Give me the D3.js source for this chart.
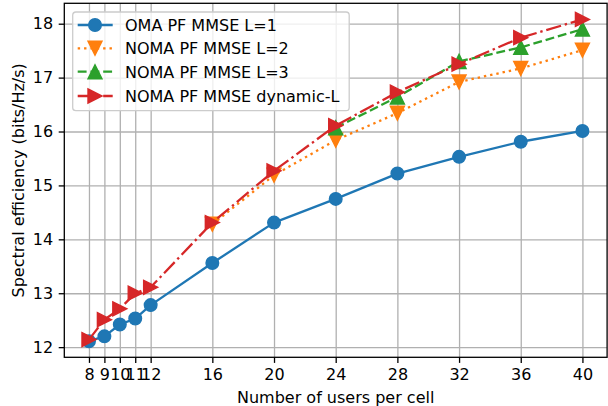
<!DOCTYPE html>
<html>
<head>
<meta charset="utf-8">
<script src="https://cdn.jsdelivr.net/npm/d3@7"></script>
<style>
  body { margin: 0; background: #fff; }
  svg { display: block; font-family: "DejaVu Sans", sans-serif; }
  text { fill: #000; }
</style>
</head>
<body>
<svg width="608" height="406"></svg>
<script>
// users per cell (x ticks)
var users = [8, 9, 10, 11, 12, 16, 20, 24, 28, 32, 36, 40];
var yTicks = [12, 13, 14, 15, 16, 17, 18];

// spectral efficiency (null = no point)
var omaL1    = [12.11, 12.20, 12.42, 12.53, 12.78, 13.56, 14.31, 14.75, 15.22, 15.53, 15.81, 16.01];
var nomaL2   = [null, null, null, null, null, 14.28, 15.19, 15.84, 16.34, 16.92, 17.17, 17.51];
var nomaL3   = [null, null, null, null, null, null, null, 16.07, 16.64, 17.30, 17.56, 17.90];
var nomaDynL = [12.14, 12.51, 12.71, 13.00, 13.11, 14.31, 15.27, 16.11, 16.73, 17.25, 17.74, 18.08];

var seriesNames = ["OMA PF MMSE L=1", "NOMA PF MMSE L=2", "NOMA PF MMSE L=3", "NOMA PF MMSE dynamic-L"];

var series = [
  { name: seriesNames[0], values: omaL1,    color: "#1f77b4", dash: null,                 marker: "circle" },
  { name: seriesNames[1], values: nomaL2,   color: "#ff7f0e", dash: "2.4,3.96",           marker: "down" },
  { name: seriesNames[2], values: nomaL3,   color: "#2ca02c", dash: "8.9,3.84",           marker: "up" },
  { name: seriesNames[3], values: nomaDynL, color: "#d62728", dash: "15.4,3.84,2.4,3.84", marker: "right" }
];

var margin = { left: 64.3, top: 3.3, right: 608 - 607.1, bottom: 406 - 357.3 };
var width = 608 - margin.left - margin.right;
var height = 406 - margin.top - margin.bottom;

var svg = d3.select("svg");
var g = svg.append("g")
  .attr("transform", "translate(" + margin.left + "," + margin.top + ")");

// matplotlib-style 5% margins
var xExt = d3.extent(users);
var xPad = (xExt[1] - xExt[0]) * 0.05;
var allY = [].concat(omaL1, nomaL2, nomaL3, nomaDynL).filter(function(v) { return v != null; });
var yExt = d3.extent(allY);
var yPad = (yExt[1] - yExt[0]) * 0.05;

var x = d3.scaleLinear().domain([xExt[0] - xPad, xExt[1] + xPad]).range([0, width]);
var y = d3.scaleLinear().domain([yExt[0] - yPad, yExt[1] + yPad]).range([height, 0]);

// grid
g.append("g")
  .attr("class", "grid")
  .attr("transform", "translate(0," + height + ")")
  .call(d3.axisBottom(x).tickValues(users).tickSize(-height).tickFormat(""));
g.append("g")
  .attr("class", "grid")
  .call(d3.axisLeft(y).tickValues(yTicks).tickSize(-width).tickFormat(""));
g.selectAll(".grid .domain").remove();
g.selectAll(".grid line").attr("stroke", "#b0b0b0").attr("stroke-width", 1.3);

// lines + markers
var line = d3.line()
  .defined(function(d) { return d != null; })
  .x(function(d, i) { return x(users[i]); })
  .y(function(d) { return y(d); });

var s = 7;
var markerPath = {
  down:  "M" + (-s) + "," + (-s) + "L" + s + "," + (-s) + "L0," + s + "Z",
  up:    "M0," + (-s) + "L" + s + "," + s + "L" + (-s) + "," + s + "Z",
  right: "M" + (-s) + "," + (-s) + "L" + s + ",0L" + (-s) + "," + s + "Z"
};

function drawMarker(sel, kind, color) {
  if (kind === "circle") {
    sel.append("circle").attr("r", 6.3)
      .attr("fill", color).attr("stroke", color).attr("stroke-width", 1.4);
  } else {
    sel.append("path").attr("d", markerPath[kind])
      .attr("fill", color).attr("stroke", color).attr("stroke-width", 1.4)
      .attr("stroke-linejoin", "miter");
  }
}

series.forEach(function(sr) {
  g.append("path")
    .datum(sr.values)
    .attr("fill", "none")
    .attr("stroke", sr.color)
    .attr("stroke-width", 2.3)
    .attr("stroke-dasharray", sr.dash)
    .attr("stroke-linejoin", "round")
    .attr("d", line);

  var pts = sr.values.map(function(v, i) { return { x: users[i], v: v }; })
    .filter(function(p) { return p.v != null; });

  g.selectAll(null)
    .data(pts)
    .enter().append("g")
    .attr("transform", function(p) { return "translate(" + x(p.x) + "," + y(p.v) + ")"; })
    .each(function() { drawMarker(d3.select(this), sr.marker, sr.color); });
});

// axes
var xAxis = g.append("g")
  .attr("transform", "translate(0," + height + ")")
  .call(d3.axisBottom(x).tickValues(users).tickSize(5.6).tickPadding(5.6).tickFormat(d3.format("d")));
var yAxis = g.append("g")
  .call(d3.axisLeft(y).tickValues(yTicks).tickSize(5.6).tickPadding(5.6).tickFormat(d3.format("d")));

[xAxis, yAxis].forEach(function(a) {
  a.select(".domain").remove();
  a.selectAll("line").attr("stroke", "#000").attr("stroke-width", 1.3);
  a.selectAll("text").attr("font-size", 16).attr("fill", "#000")
    .attr("font-family", "DejaVu Sans");
});

// frame
g.append("rect")
  .attr("width", width).attr("height", height)
  .attr("fill", "none").attr("stroke", "#000").attr("stroke-width", 1.3);

// axis labels
svg.append("text")
  .attr("x", margin.left + width / 2)
  .attr("y", 402.5)
  .attr("text-anchor", "middle")
  .attr("font-size", 16)
  .text("Number of users per cell");

svg.append("text")
  .attr("transform", "translate(23.5," + (margin.top + height / 2) + ")rotate(-90)")
  .attr("text-anchor", "middle")
  .attr("font-size", 16)
  .text("Spectral efficiency (bits/Hz/s)");

// legend
var leg = svg.append("g").attr("transform", "translate(72.7,12)");
leg.append("rect")
  .attr("width", 276.5).attr("height", 98.7)
  .attr("rx", 3.2)
  .attr("fill", "#fff").attr("fill-opacity", 0.8)
  .attr("stroke", "#cccccc").attr("stroke-width", 1.3);

var rowY = [13, 36.3, 59.7, 84];
series.forEach(function(sr, i) {
  var row = leg.append("g").attr("transform", "translate(0," + rowY[i] + ")");
  row.append("line")
    .attr("x1", 5).attr("x2", 40)
    .attr("stroke", sr.color).attr("stroke-width", 2.3)
    .attr("stroke-dasharray", sr.dash);
  var m = row.append("g").attr("transform", "translate(22.3,0)");
  drawMarker(m, sr.marker, sr.color);
  row.append("text")
    .attr("x", 52.3).attr("y", 5.8)
    .attr("font-size", 16)
    .text(sr.name);
});
</script>
</body>
</html>
